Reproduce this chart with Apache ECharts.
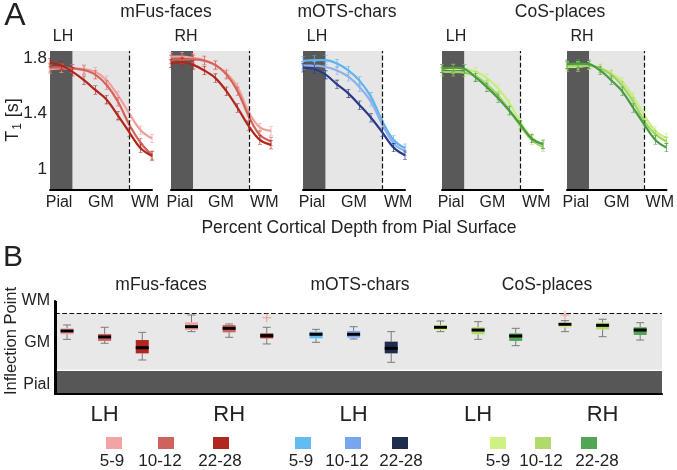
<!DOCTYPE html>
<html><head><meta charset="utf-8">
<script src="https://cdn.jsdelivr.net/npm/echarts@6/dist/echarts.min.js"></script>
<style>html,body{margin:0;padding:0;background:#fff}#c{width:677px;height:470px}</style>
</head><body><div id="c"></div>
<script>
// ---------- DATA ----------
const depthIdx = [0, 1, 2, 3, 4, 5, 6, 7, 8, 9];
const depthTickVals = [0.8, 4.5, 8.4];
const depthTickLabels = ['Pial', 'GM', 'WM'];
const t1TickVals = [1, 1.4, 1.8];
const ageGroups = ['5-9', '10-12', '22-28'];
const roiNames = ['mFus-faces', 'mOTS-chars', 'CoS-places'];
const panelHemis = ['LH', 'RH', 'LH', 'LH', 'RH'];
const panelRoi = [0, 0, 1, 2, 2];

// Panel A: T1 [s] across cortical depth (per age group)
const t1_mFusLH_5_9   = [1.72, 1.725, 1.725, 1.72, 1.70, 1.64, 1.53, 1.40, 1.28, 1.22];
const t1_mFusLH_10_12 = [1.73, 1.73, 1.725, 1.713, 1.68, 1.605, 1.485, 1.32, 1.19, 1.10];
const t1_mFusLH_22_28 = [1.765, 1.745, 1.70, 1.64, 1.57, 1.50, 1.385, 1.265, 1.15, 1.095];
const t1_mFusRH_5_9   = [1.81, 1.81, 1.80, 1.785, 1.745, 1.69, 1.59, 1.41, 1.30, 1.275];
const t1_mFusRH_10_12 = [1.79, 1.79, 1.79, 1.78, 1.75, 1.68, 1.56, 1.38, 1.245, 1.20];
const t1_mFusRH_22_28 = [1.76, 1.77, 1.75, 1.71, 1.655, 1.56, 1.44, 1.31, 1.21, 1.175];
const t1_mOTSLH_5_9   = [1.78, 1.785, 1.785, 1.76, 1.71, 1.635, 1.52, 1.345, 1.21, 1.15];
const t1_mOTSLH_10_12 = [1.745, 1.745, 1.735, 1.71, 1.665, 1.59, 1.485, 1.32, 1.185, 1.13];
const t1_mOTSLH_22_28 = [1.73, 1.72, 1.68, 1.61, 1.545, 1.46, 1.37, 1.265, 1.155, 1.10];
const t1_CoSLH_5_9    = [1.725, 1.72, 1.72, 1.70, 1.655, 1.58, 1.475, 1.335, 1.225, 1.175];
const t1_CoSLH_10_12  = [1.70, 1.70, 1.695, 1.67, 1.61, 1.53, 1.425, 1.31, 1.21, 1.16];
const t1_CoSLH_22_28  = [1.725, 1.73, 1.72, 1.66, 1.59, 1.51, 1.42, 1.32, 1.22, 1.18];
const t1_CoSRH_5_9    = [1.735, 1.735, 1.745, 1.73, 1.69, 1.63, 1.52, 1.385, 1.275, 1.225];
const t1_CoSRH_10_12  = [1.745, 1.745, 1.745, 1.725, 1.68, 1.60, 1.485, 1.345, 1.25, 1.20];
const t1_CoSRH_22_28  = [1.755, 1.76, 1.755, 1.71, 1.64, 1.56, 1.44, 1.32, 1.21, 1.155];

const panelLines = [
  [t1_mFusLH_5_9, t1_mFusLH_10_12, t1_mFusLH_22_28],
  [t1_mFusRH_5_9, t1_mFusRH_10_12, t1_mFusRH_22_28],
  [t1_mOTSLH_5_9, t1_mOTSLH_10_12, t1_mOTSLH_22_28],
  [t1_CoSLH_5_9, t1_CoSLH_10_12, t1_CoSLH_22_28],
  [t1_CoSRH_5_9, t1_CoSRH_10_12, t1_CoSRH_22_28]
];

// Panel B: inflection point boxplots (order: panel x age group)
const inflMin = [4.76, 4.42, 2.96, 5.43, 4.94, 4.36, 4.50, 4.79, 2.76, 5.43, 4.76, 4.21, 5.43, 4.99, 4.70];
const inflQ1  = [5.20, 4.62, 3.54, 5.57, 5.37, 4.85, 4.85, 4.91, 3.54, 5.57, 5.20, 4.62, 5.81, 5.63, 5.14];
const inflMed = [5.49, 4.97, 4.03, 5.86, 5.72, 5.08, 5.20, 5.20, 3.98, 5.81, 5.57, 5.05, 6.07, 5.98, 5.57];
const inflQ3  = [5.72, 5.23, 4.70, 6.24, 6.01, 5.28, 5.43, 5.49, 4.56, 6.01, 5.81, 5.28, 6.21, 6.21, 5.81];
const inflMax = [6.01, 5.81, 5.37, 6.88, 6.10, 5.81, 5.63, 5.86, 5.43, 6.36, 6.30, 5.72, 6.39, 6.51, 6.21];
const outlierBox = [5, 12];
const outlierVal = [6.65, 6.88];
const inflTickVals = [0.8, 4.5, 8.1];
const inflTickLabels = ['Pial', 'GM', 'WM'];

// ---------- STYLE ----------
const FONT = '"Liberation Sans", Arial, Helvetica, sans-serif';
const TXT = '#222';
const lineColors = [
  ['#f0a09c', '#d6625c', '#b0261c'],
  ['#5db4ee', '#8fb0ea', '#2a3a88'],
  ['#c6ee7a', '#9fd462', '#4a9a45']
];
const boxColors = [
  ['#f2a4a2', '#cf625d', '#b2271d'],
  ['#62bcf2', '#77a5ee', '#1e2c4e'],
  ['#cff083', '#b0da6c', '#52a555']
];
const pialEnd = 2, wmStart = 7;
const groupStride = 3.31, slotOffset = 0.32;
const gridA = [
  {left: 50, top: 51, width: 102, height: 139},
  {left: 171, top: 51, width: 100, height: 139},
  {left: 303, top: 51, width: 102, height: 139},
  {left: 442, top: 51, width: 101, height: 139},
  {left: 567, top: 51, width: 101, height: 139}
];
const gridB = {left: 55, top: 301, width: 607, height: 93};

function nearestLabel(v, vals, labels) {
  let bi = 0, bd = Infinity;
  vals.forEach((t, i) => { const d = Math.abs(t - v); if (d < bd) { bd = d; bi = i; } });
  return labels[bi];
}

const grids = [], xAxes = [], yAxes = [], series = [];
const errBar = 'path://M0,0H4V0.6H2.35V9.4H4V10H0V9.4H1.65V0.6H0Z';

gridA.forEach((g, p) => {
  grids.push(g);
  xAxes.push({
    type: 'value', gridIndex: p, min: 0, max: 9, z: 10,
    axisLine: {show: true, onZero: false, lineStyle: {color: '#000', width: 2}},
    axisTick: {show: false}, splitLine: {show: false},
    axisLabel: {
      customValues: depthTickVals, margin: 5, fontSize: 16, color: TXT, fontFamily: FONT,
      formatter: v => nearestLabel(v, depthTickVals, depthTickLabels)
    }
  });
  yAxes.push({
    type: 'value', gridIndex: p, min: 0.85, max: 1.85,
    axisLine: {show: false}, axisTick: {show: false}, splitLine: {show: false},
    axisLabel: {
      show: p === 0, customValues: t1TickVals, margin: 3, fontSize: 17, color: TXT, fontFamily: FONT
    }
  });
  series.push({
    type: 'line', xAxisIndex: p, yAxisIndex: p, data: [], z: 1, silent: true,
    markArea: {
      silent: true,
      data: [
        [{xAxis: 0, itemStyle: {color: '#595959'}}, {xAxis: pialEnd}],
        [{xAxis: pialEnd, itemStyle: {color: '#e6e6e6'}}, {xAxis: wmStart}]
      ]
    },
    markLine: {
      silent: true, symbol: 'none', label: {show: false},
      lineStyle: {type: 'dashed', color: '#111', width: 1.2},
      data: [{xAxis: wmStart}]
    }
  });
  panelLines[p].forEach((vals, a) => {
    const col = lineColors[panelRoi[p]][a];
    series.push({
      type: 'line', name: roiNames[panelRoi[p]] + ' ' + panelHemis[p] + ' ' + ageGroups[a],
      xAxisIndex: p, yAxisIndex: p, z: 3 + a,
      data: depthIdx.map((d, i) => [d, vals[i]]),
      smooth: 0.35,
      symbol: errBar, symbolSize: [4, 9], showSymbol: true,
      lineStyle: {color: col, width: 2.2},
      itemStyle: {color: col},
      emphasis: {disabled: true}
    });
  });
});

// Panel B grid
const bi = gridA.length;
grids.push(gridB);
const slotX = (g, a) => slotOffset + g * groupStride + a;
const groupMid = panelHemis.map((h, g) => slotX(g, 1));
xAxes.push({
  type: 'value', gridIndex: bi, min: 0, max: 16.14, z: 10,
  axisLine: {show: true, lineStyle: {color: '#000', width: 2}},
  axisTick: {show: false}, splitLine: {show: false},
  axisLabel: {
    customValues: groupMid, margin: 10, fontSize: 22, color: TXT, fontFamily: FONT,
    formatter: v => panelHemis[Math.round((v - slotOffset - 1) / groupStride)]
  }
});
yAxes.push({
  type: 'value', gridIndex: bi, min: 0, max: 8.1, z: 10,
  axisLine: {show: true, lineStyle: {color: '#000', width: 2}},
  axisTick: {show: false}, splitLine: {show: false},
  axisLabel: {
    customValues: inflTickVals, margin: 5, fontSize: 16, color: TXT, fontFamily: FONT,
    formatter: v => nearestLabel(v, inflTickVals, inflTickLabels)
  }
});
series.push({
  type: 'line', xAxisIndex: bi, yAxisIndex: bi, data: [], z: 1, silent: true,
  markArea: {
    silent: true,
    data: [
      [{yAxis: 0, itemStyle: {color: '#575757'}}, {yAxis: pialEnd}],
      [{yAxis: pialEnd + 0.12, itemStyle: {color: '#e8e8e8'}}, {yAxis: wmStart}]
    ]
  },
  markLine: {
    silent: true, symbol: 'none', label: {show: false},
    lineStyle: {type: 'dashed', color: '#111', width: 1.2},
    data: [{yAxis: wmStart}]
  }
});
// solid left axis line for panel B (drawn above the bands)
series.push({
  type: 'line', xAxisIndex: bi, yAxisIndex: bi, data: [], z: 8, silent: true,
  markLine: {
    silent: true, symbol: 'none', label: {show: false},
    lineStyle: {type: 'solid', color: '#000', width: 2},
    data: [[{coord: [0.03, 0]}, {coord: [0.03, 8.1]}]]
  }
});
const boxData = inflMed.map((m, i) => {
  const g = Math.floor(i / 3), a = i % 3;
  return [slotX(g, a), inflMin[i], inflQ1[i], m, inflQ3[i], inflMax[i], panelRoi[g], a];
});
series.push({
  type: 'custom', xAxisIndex: bi, yAxisIndex: bi, z: 5, silent: true,
  data: boxData,
  renderItem: (params, api) => {
    const x = api.value(0);
    const pMin = api.coord([x, api.value(1)]);
    const pQ1 = api.coord([x, api.value(2)]);
    const pMed = api.coord([x, api.value(3)]);
    const pQ3 = api.coord([x, api.value(4)]);
    const pMax = api.coord([x, api.value(5)]);
    const col = boxColors[api.value(6)][api.value(7)];
    const cx = pMed[0], bw = 6.5, cw = 4;
    const wh = {stroke: '#7a7a7a', lineWidth: 1};
    return {
      type: 'group',
      children: [
        {type: 'line', shape: {x1: cx, y1: pMax[1], x2: cx, y2: pQ3[1]}, style: wh},
        {type: 'line', shape: {x1: cx, y1: pQ1[1], x2: cx, y2: pMin[1]}, style: wh},
        {type: 'line', shape: {x1: cx - cw, y1: pMax[1], x2: cx + cw, y2: pMax[1]}, style: wh},
        {type: 'line', shape: {x1: cx - cw, y1: pMin[1], x2: cx + cw, y2: pMin[1]}, style: wh},
        {type: 'rect', shape: {x: cx - bw, y: pQ3[1], width: 2 * bw, height: pQ1[1] - pQ3[1]}, style: {fill: col}},
        {type: 'line', shape: {x1: cx - bw, y1: pMed[1], x2: cx + bw, y2: pMed[1]}, style: {stroke: '#000', lineWidth: 3}}
      ]
    };
  }
});
series.push({
  type: 'scatter', xAxisIndex: bi, yAxisIndex: bi, z: 6, silent: true,
  symbol: 'path://M4,0H5V4H9V5H5V9H4V5H0V4H4Z', symbolSize: 9,
  itemStyle: {color: '#f08a8a'},
  data: outlierBox.map((b, i) => [boxData[b][0], outlierVal[i]])
});

// ---------- TEXT / LEGEND ----------
function txt(x, y, text, size, extra) {
  return Object.assign({
    type: 'text', x: x, y: y, silent: true,
    style: {text: text, fontSize: size, fontFamily: FONT, fill: TXT, align: 'center', verticalAlign: 'middle'}
  }, extra || {});
}
const graphics = [];
graphics.push(txt(15, 16, 'A', 32));
graphics.push(txt(13, 258, 'B', 30));
const titleAx = [166, 347, 560];
roiNames.forEach((n, i) => graphics.push(txt(titleAx[i], 12, n, 17.5)));
const titleBx = [161, 360, 547];
roiNames.forEach((n, i) => graphics.push(txt(titleBx[i], 285, n, 17.5)));
const hemiAx = [63, 186, 317, 456, 582];
panelHemis.forEach((h, i) => graphics.push(txt(hemiAx[i], 37, h, 16)));
graphics.push(txt(359, 228, 'Percent Cortical Depth from Pial Surface', 17.5));
graphics.push({
  type: 'text', x: 13, y: 120, rotation: Math.PI / 2, silent: true,
  style: {
    text: 'T{s|1} [s]', fontSize: 18, fontFamily: FONT, fill: TXT, align: 'center', verticalAlign: 'middle',
    rich: {s: {fontSize: 12, fontFamily: FONT, fill: TXT, padding: [9, 1, 0, 1]}}
  }
});
graphics.push({
  type: 'text', x: 11, y: 341, rotation: Math.PI / 2, silent: true,
  style: {text: 'Inflection Point', fontSize: 16.5, fontFamily: FONT, fill: TXT, align: 'center', verticalAlign: 'middle'}
});
const legSqX = [[114, 166, 221], [303, 353, 400], [498, 543, 589]];
const legTxtX = [[112, 160, 220], [301, 347, 401], [498, 541, 597]];
roiNames.forEach((r, ri) => {
  ageGroups.forEach((a, ai) => {
    graphics.push({type: 'rect', silent: true, shape: {x: legSqX[ri][ai] - 8, y: 437, width: 16, height: 12}, style: {fill: boxColors[ri][ai]}});
    graphics.push(txt(legTxtX[ri][ai], 461, a, 17));
  });
});

const chart = echarts.init(document.getElementById('c'), null, {renderer: 'canvas'});
chart.setOption({
  animation: false,
  backgroundColor: '#fff',
  textStyle: {fontFamily: FONT},
  grid: grids, xAxis: xAxes, yAxis: yAxes, series: series,
  graphic: graphics
});
</script></body></html>
